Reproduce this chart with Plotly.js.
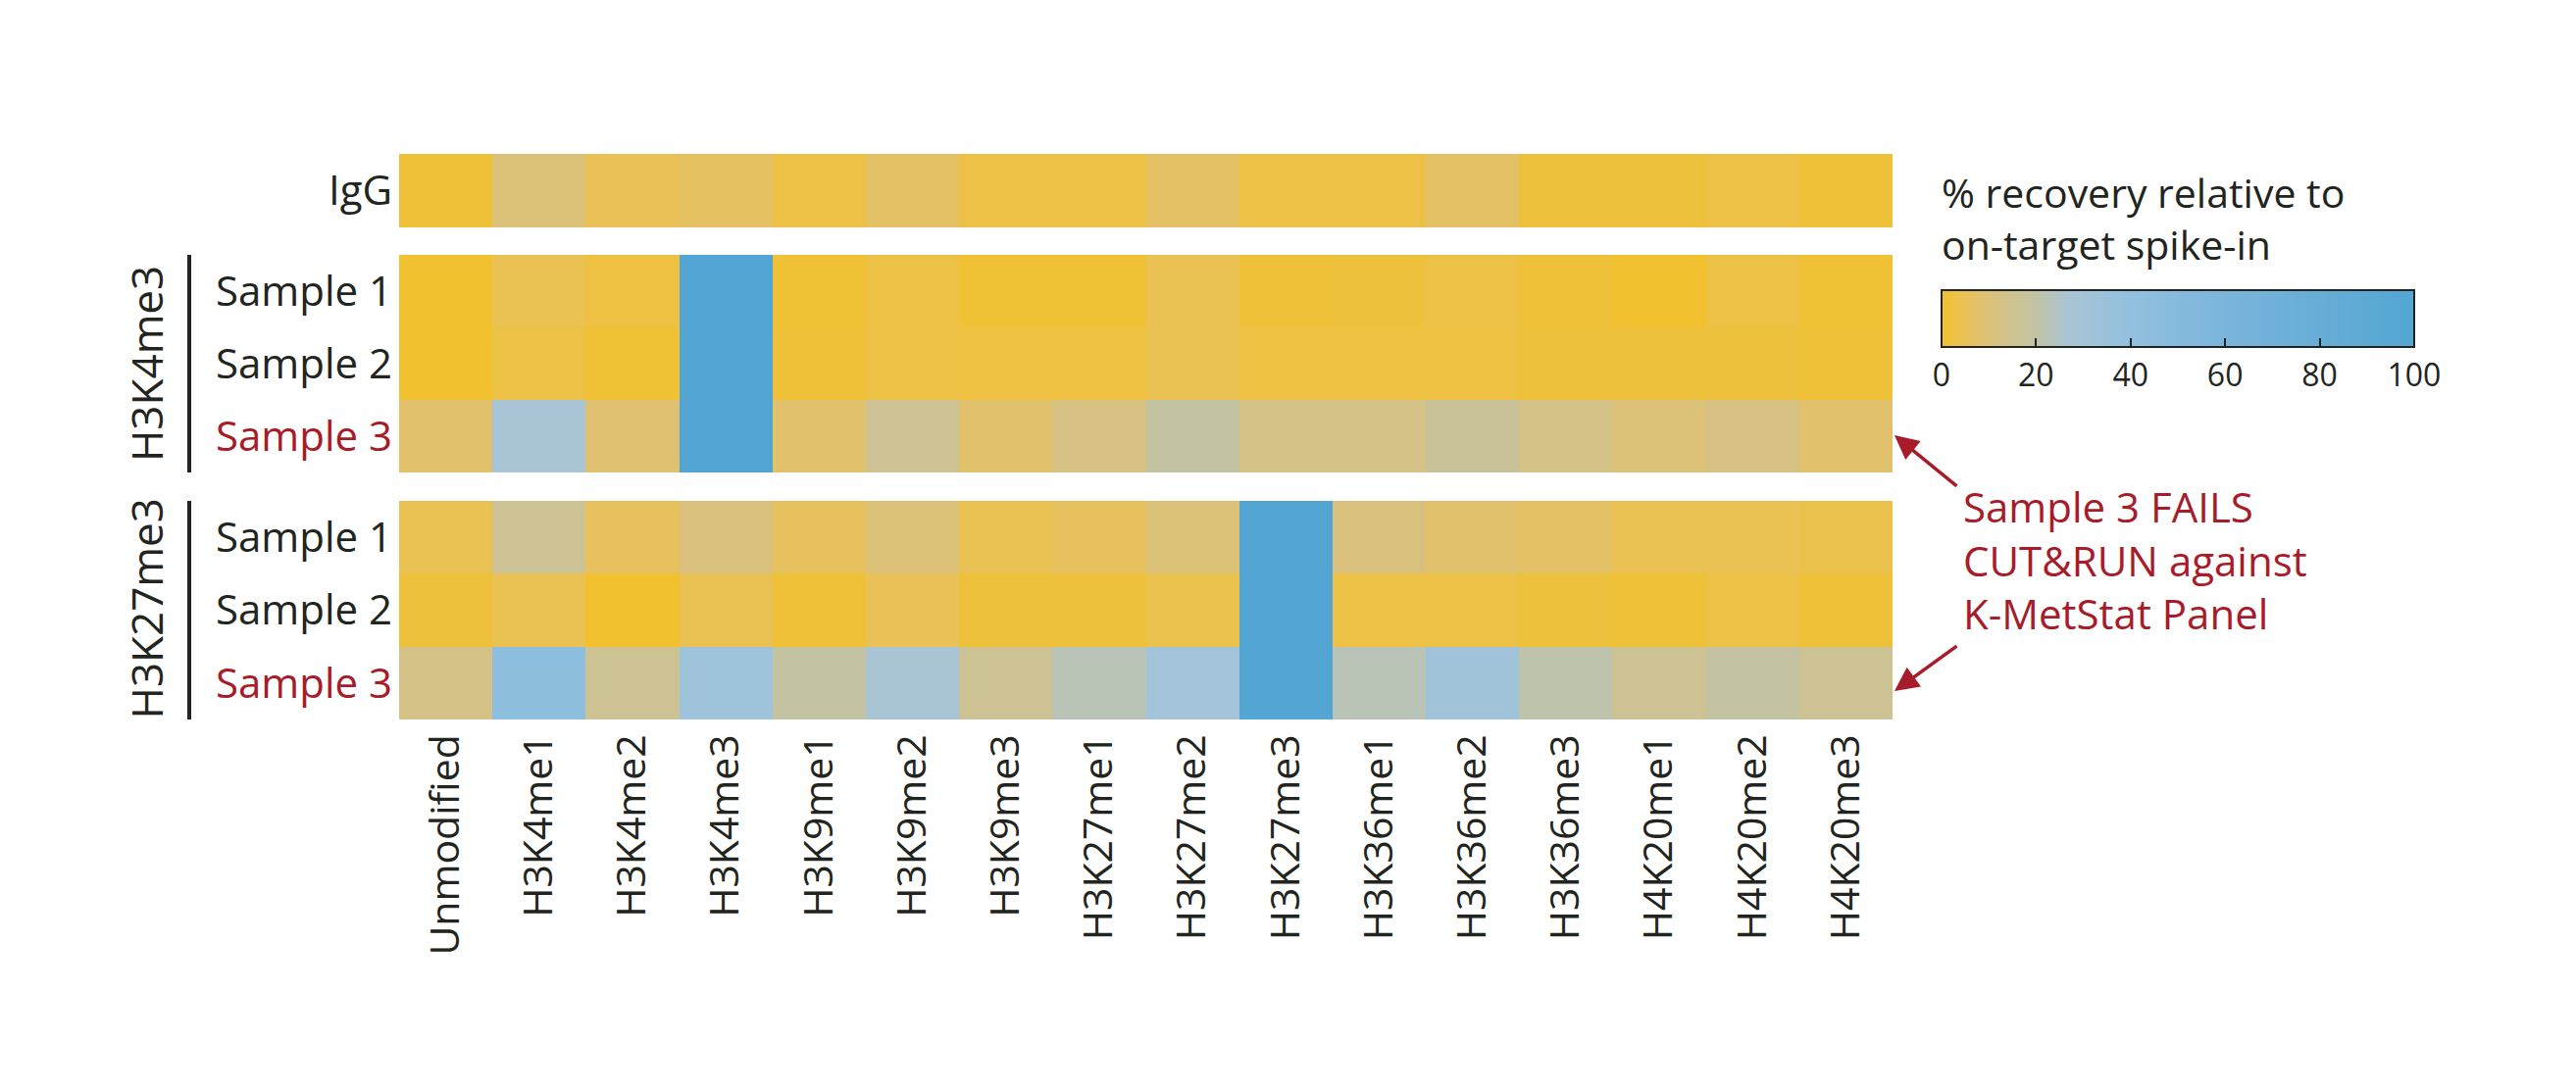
<!DOCTYPE html>
<html>
<head>
<meta charset="utf-8">
<script src="https://cdn.plot.ly/plotly-3.0.1.min.js"></script>
<style>html,body{margin:0;padding:0;background:#fff;}#chart{width:2627px;height:1113px;}</style>
</head>
<body>
<div id="chart"></div>
<script>
// ---- Data ----
const columns = ['Unmodified','H3K4me1','H3K4me2','H3K4me3','H3K9me1','H3K9me2','H3K9me3',
  'H3K27me1','H3K27me2','H3K27me3','H3K36me1','H3K36me2','H3K36me3','H4K20me1','H4K20me2','H4K20me3'];
const sampleRows = ['Sample 1','Sample 2','Sample 3'];
const iggRow = ['IgG'];

const iggValues = [1.5, 10, 5, 6.5, 3, 7, 3, 3, 7, 3, 3, 7, 2, 2, 3, 1.5];

const h3k4me3Sample1 = [0.5, 4.5, 2.5, 100, 1, 3, 1, 1, 4.5, 1.5, 2, 3, 1.5, 0.5, 3, 1];
const h3k4me3Sample2 = [0.5, 3, 1, 100, 1.5, 3, 2.5, 2.5, 4.5, 2.5, 2.5, 2.5, 2, 2, 2, 1.5];
const h3k4me3Sample3 = [8, 27, 9, 100, 8, 16, 8, 12, 19, 13, 13, 17, 13, 10, 12, 8];

const h3k27me3Sample1 = [4.5, 16, 6, 11, 6, 10, 4.5, 6, 10, 100, 11, 8, 7, 4.5, 4.5, 4];
const h3k27me3Sample2 = [2, 4.5, 0.5, 4.5, 1.5, 5, 2, 2, 4, 100, 3, 3, 2, 1.5, 3, 1.5];
const h3k27me3Sample3 = [13, 44, 16, 33, 19, 27, 16, 22.5, 31, 100, 22.5, 32, 21, 16, 19, 16];

const colorbarTicks = [0, 20, 40, 60, 80, 100];

// ---- Styling ----
const RED = '#a81c2a';
const INK = '#222420';
const FONT = 'Open Sans, Noto Sans, sans-serif';

const colorscale = [
  [0.00, '#f2c12c'],
  [0.05, '#e9c157'],
  [0.10, '#dcc178'],
  [0.15, '#cec290'],
  [0.20, '#c2c3a5'],
  [0.27, '#a9c5d5'],
  [0.40, '#93c0df'],
  [0.60, '#7ab5db'],
  [0.80, '#66add7'],
  [1.00, '#53a6d3']
];

const common = { type: 'heatmap', x: columns, coloraxis: 'coloraxis', hoverongaps: false };

const traces = [
  Object.assign({}, common, { y: iggRow, z: [iggValues], xaxis: 'x', yaxis: 'y' }),
  Object.assign({}, common, { y: sampleRows, z: [h3k4me3Sample1, h3k4me3Sample2, h3k4me3Sample3], xaxis: 'x', yaxis: 'y2' }),
  Object.assign({}, common, { y: sampleRows, z: [h3k27me3Sample1, h3k27me3Sample2, h3k27me3Sample3], xaxis: 'x', yaxis: 'y3' })
];

const xTickFont = { family: FONT, size: 41, color: INK };
const yTickFont = { family: FONT, size: 42, color: INK };
const sampleTickText = ['Sample 1', 'Sample 2', '<span style="color:' + RED + '">Sample 3</span>'];

function yAxis(domain, vals, text) {
  return {
    domain: domain, type: 'category', autorange: 'reversed',
    tickvals: vals, ticktext: text, tickfont: yTickFont,
    showgrid: false, zeroline: false, showline: false, ticks: '',
    ticklabelstandoff: 6, fixedrange: true
  };
}

const layout = {
  width: 2627, height: 1113,
  margin: { l: 407, r: 697, t: 157, b: 379 },
  paper_bgcolor: '#ffffff', plot_bgcolor: '#ffffff',
  font: { family: FONT, color: INK },
  showlegend: false,
  xaxis: {
    anchor: 'y3', domain: [0, 1], type: 'category',
    tickangle: -90, tickfont: xTickFont, ticks: '',
    showgrid: false, zeroline: false, showline: false,
    ticklabelstandoff: 6, fixedrange: true
  },
  yaxis: yAxis([0.870, 1], iggRow, iggRow),
  yaxis2: yAxis([0.4367, 0.8215], sampleRows, sampleTickText),
  yaxis3: yAxis([0, 0.3865], sampleRows, sampleTickText),
  coloraxis: {
    cmin: 0, cmax: 100, colorscale: colorscale,
    colorbar: {
      orientation: 'h',
      lenmode: 'pixels', len: 482,
      thicknessmode: 'pixels', thickness: 58,
      x: 1.0328, xanchor: 'left', y: 0.759, yanchor: 'top',
      xpad: 0, ypad: 0,
      outlinewidth: 2, outlinecolor: INK,
      ticks: 'inside', ticklen: 10, tickwidth: 2, tickcolor: INK,
      tickvals: colorbarTicks, ticktext: colorbarTicks.map(String),
      tickfont: { family: FONT, size: 32, color: INK }
    }
  },
  shapes: [
    { type: 'line', xref: 'paper', x0: -0.1405, x1: -0.1405, yref: 'y2 domain', y0: 0, y1: 1,
      line: { color: INK, width: 4 } },
    { type: 'line', xref: 'paper', x0: -0.1405, x1: -0.1405, yref: 'y3 domain', y0: 0, y1: 1,
      line: { color: INK, width: 4 } }
  ],
  annotations: [
    { text: 'H3K4me3', textangle: -90, xref: 'paper', yref: 'paper', x: -0.1694, y: 0.629,
      xanchor: 'center', yanchor: 'middle', showarrow: false, font: { family: FONT, size: 44, color: INK } },
    { text: 'H3K27me3', textangle: -90, xref: 'paper', yref: 'paper', x: -0.1694, y: 0.195,
      xanchor: 'center', yanchor: 'middle', showarrow: false, font: { family: FONT, size: 44, color: INK } },
    { text: '% recovery relative to<br>on-target spike-in', xref: 'paper', yref: 'paper',
      x: 1.0315, y: 0.886, xanchor: 'left', yanchor: 'middle', align: 'left', showarrow: false,
      font: { family: FONT, size: 41, color: INK } },
    { text: 'Sample 3 FAILS<br>CUT&amp;RUN against<br>K-MetStat Panel', xref: 'paper', yref: 'paper',
      x: 1.046, y: 0.2825, xanchor: 'left', yanchor: 'middle', align: 'left', showarrow: false,
      font: { family: FONT, size: 42, color: RED } },
    { text: '', xref: 'paper', yref: 'paper', x: 1.0013, y: 0.5026, showarrow: true,
      ax: 65, ay: 53, arrowhead: 2, arrowsize: 1.4, arrowwidth: 3.5, arrowcolor: RED },
    { text: '', xref: 'paper', yref: 'paper', x: 1.0013, y: 0.0502, showarrow: true,
      ax: 65, ay: -47, arrowhead: 2, arrowsize: 1.4, arrowwidth: 3.5, arrowcolor: RED }
  ]
};

Plotly.newPlot('chart', traces, layout, { staticPlot: true, displayModeBar: false });
</script>
</body>
</html>
